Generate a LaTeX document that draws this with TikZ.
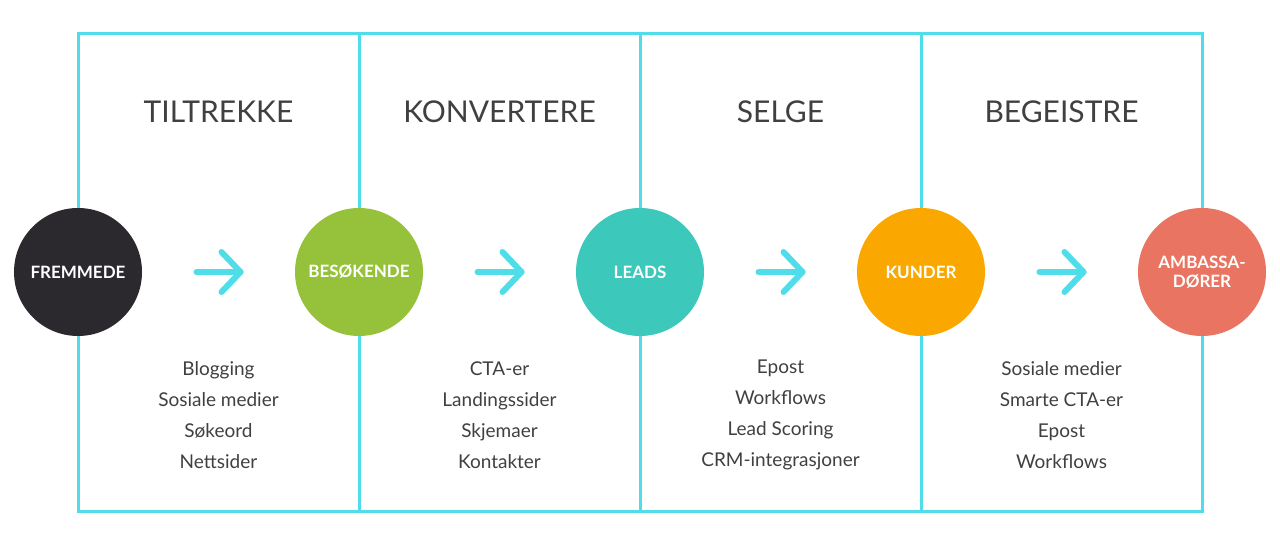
\documentclass[tikz,border=0pt]{standalone}
\usepackage{fontspec}
\setmainfont{Lato}
\definecolor{cy}{HTML}{4FDDEA}
\definecolor{c1}{HTML}{2B292E}
\definecolor{c2}{HTML}{96C23B}
\definecolor{c3}{HTML}{3CC8BA}
\definecolor{c4}{HTML}{FAA800}
\definecolor{c5}{HTML}{E87461}
\tikzset{
  stage/.style={circle,minimum size=128pt,inner sep=0pt,text=white,font=\fontsize{17}{19}\selectfont\bfseries,align=center},
  title/.style={font=\fontsize{30}{34}\selectfont,text=black!75},
  items/.style={font=\fontsize{19}{31}\selectfont,text=black!75,align=center},
  flow/.style={cy,line width=6pt,line cap=round,line join=round}
}
\begin{document}
\begin{tikzpicture}[x=1pt,y=-1pt]
\useasboundingbox (0,0) rectangle (1280,545);
\draw[cy,line width=3pt] (78,34) rectangle (1202,511);
\foreach \x in {359,640,921} \draw[cy,line width=3pt] (\x,34) -- (\x,511);
\node[stage,fill=c1] (s1) at (78,272) {FREMMEDE};
\node[stage,fill=c2] (s2) at (359,272) {BESØKENDE};
\node[stage,fill=c3] (s3) at (640,272) {LEADS};
\node[stage,fill=c4] (s4) at (921,272) {KUNDER};
\node[stage,fill=c5] (s5) at (1202,272) {AMBASSA-\\DØRER};
\node[title] (t1) at (218.5,112) {TILTREKKE};
\node[title] (t2) at (499.5,112) {KONVERTERE};
\node[title] (t3) at (780.5,112) {SELGE};
\node[title] (t4) at (1061.5,112) {BEGEISTRE};
\node[items] (l1) at (218.5,415) {Blogging\\Sosiale medier\\Søkeord\\Nettsider};
\node[items] (l2) at (499.5,415) {CTA-er\\Landingssider\\Skjemaer\\Kontakter};
\node[items] (l3) at (780.5,415) {Epost\\Workflows\\Lead Scoring\\CRM-integrasjoner};
\node[items] (l4) at (1061.5,415) {Sosiale medier\\Smarte CTA-er\\Epost\\Workflows};
\foreach \c in {218.5,499.5,780.5,1061.5}{
  \coordinate (a) at (\c-22,272);
  \coordinate (b) at (\c+22,272);
  \draw[flow] (a) -- (b);
  \draw[flow] ([xshift=-19pt,yshift=-20pt]b) -- (b) -- ([xshift=-19pt,yshift=20pt]b);
}
\end{tikzpicture}
\end{document}
